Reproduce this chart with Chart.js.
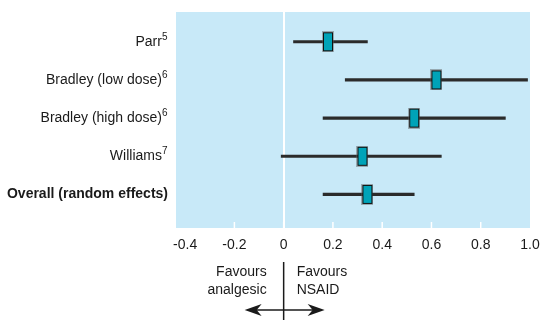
<!DOCTYPE html>
<html>
<head>
<meta charset="utf-8">
<script src="https://cdn.jsdelivr.net/npm/chart.js@4.4.0/dist/chart.umd.min.js"></script>
<style>
  html, body { margin: 0; padding: 0; background: #fff; }
  #wrap { width: 541px; height: 320px; }
</style>
</head>
<body>
<div id="wrap"><canvas id="myChart" width="541" height="320"></canvas></div>
<script>
// dati
const studies = ['Parr', 'Bradley (low dose)', 'Bradley (high dose)', 'Williams', 'Overall (random effects)']
const refs = ['5', '6', '6', '7', '']
const estimates = [0.18, 0.62, 0.53, 0.32, 0.34]
const lower = [0.04, 0.25, 0.16, -0.01, 0.16]
const upper = [0.34, 0.99, 0.90, 0.64, 0.53]
const xTicks = [-0.4, -0.2, 0, 0.2, 0.4, 0.6, 0.8, 1.0]
const markTicks = [-0.2, 0, 0.2, 0.4, 0.6, 0.8]

const FONT = '"Liberation Sans Narrow", "Liberation Sans", Arial, sans-serif'

// quadratino per la stima
const box = document.createElement('canvas')
box.width = 12
box.height = 21
const bctx = box.getContext('2d')
bctx.fillStyle = 'rgba(90,90,90,0.45)'
bctx.fillRect(0, 0, 12, 21)
bctx.fillStyle = '#111'
bctx.fillRect(1, 1, 10, 19)
bctx.fillStyle = '#00a3b8'
bctx.fillRect(2, 2, 8, 17)

const sfondo = {
  id: 'sfondo',
  beforeDraw(chart) {
    const a = chart.chartArea
    const ctx = chart.ctx
    ctx.save()
    ctx.fillStyle = '#c8e9f8'
    ctx.fillRect(a.left, a.top, a.right - a.left, a.bottom - a.top)
    ctx.restore()
  },
  beforeDatasetsDraw(chart) {
    const a = chart.chartArea
    const ctx = chart.ctx
    const x = chart.scales.x
    ctx.save()
    ctx.strokeStyle = '#fff'
    ctx.lineWidth = 1.5
    markTicks.forEach(v => {
      const px = x.getPixelForValue(v)
      ctx.beginPath()
      ctx.moveTo(px, a.bottom - 6)
      ctx.lineTo(px, a.bottom)
      ctx.stroke()
    })
    ctx.restore()
  }
}

//etichette a sinistra con apice e didascalia sotto
const etichette = {
  id: 'etichette',
  afterDraw(chart) {
    const ctx = chart.ctx
    const y = chart.scales.y
    const x = chart.scales.x
    const right = 168
    ctx.save()
    ctx.fillStyle = '#1a1a1a'
    ctx.textBaseline = 'middle'
    for (let i = 0; i < studies.length; i++) {
      const py = y.getPixelForValue(i)
      let supW = 0
      if (refs[i] != '') {
        ctx.font = '10px ' + FONT
        supW = ctx.measureText(refs[i]).width + 0.5
        ctx.textAlign = 'left'
        ctx.fillText(refs[i], right - supW, py - 5)
      }
      ctx.font = (i == 4 ? 'bold ' : '') + '14px ' + FONT
      ctx.textAlign = 'right'
      ctx.fillText(studies[i], right - supW, py)
    }

    const x0 = x.getPixelForValue(0)
    ctx.strokeStyle = '#1a1a1a'
    ctx.lineWidth = 1.5
    ctx.beginPath()
    ctx.moveTo(x0, 262)
    ctx.lineTo(x0, 320)
    ctx.stroke()
    ctx.font = '14px ' + FONT
    ctx.textAlign = 'right'
    ctx.fillText('Favours', x0 - 17, 272)
    ctx.fillText('analgesic', x0 - 17, 290)
    ctx.textAlign = 'left'
    ctx.fillText('Favours', x0 + 13, 272)
    ctx.fillText('NSAID', x0 + 13, 290)
    // freccia
    const ay = 310
    ctx.beginPath()
    ctx.moveTo(x0 - 34, ay)
    ctx.lineTo(x0 + 36, ay)
    ctx.stroke()
    ctx.fillStyle = '#1a1a1a'
    ctx.beginPath()
    ctx.moveTo(x0 - 39, ay)
    ctx.lineTo(x0 - 22, ay - 6)
    ctx.lineTo(x0 - 27, ay)
    ctx.lineTo(x0 - 22, ay + 6)
    ctx.closePath()
    ctx.fill()
    ctx.beginPath()
    ctx.moveTo(x0 + 41, ay)
    ctx.lineTo(x0 + 24, ay - 6)
    ctx.lineTo(x0 + 29, ay)
    ctx.lineTo(x0 + 24, ay + 6)
    ctx.closePath()
    ctx.fill()
    ctx.restore()
  }
}

const intervalli = studies.map((s, i) => ({ x: [lower[i], upper[i]], y: i }))
const punti = studies.map((s, i) => ({ x: estimates[i], y: i }))

const ctx = document.getElementById('myChart').getContext('2d')
const myChart = new Chart(ctx, {
  type: 'scatter',
  data: {
    datasets: [{
      type: 'bar',
      indexAxis: 'y',
      data: intervalli,
      backgroundColor: '#2b2b2b',
      borderWidth: 0,
      barThickness: 2.5,
      order: 2
    }, {
      data: punti,
      pointStyle: box,
      pointRadius: 6,
      pointHoverRadius: 6,
      order: 1
    }]
  },
  options: {
    responsive: false,
    animation: false,
    events: [],
    layout: { padding: { left: 176, right: 11, top: 12, bottom: 0 } },
    plugins: { legend: { display: false }, tooltip: { enabled: false } },
    scales: {
      x: {
        type: 'linear',
        min: -0.437,
        max: 1.0,
        offset: false,
        afterBuildTicks: s => { s.ticks = xTicks.map(v => ({ value: v })) },
        afterFit: s => {
          s.height = 92
          s.paddingLeft = 0
          s.paddingRight = 0
        },
        border: { display: false },
        grid: {
          offset: false,
          drawTicks: false,
          lineWidth: 2,
          color: c => (c.tick && c.tick.value == 0) ? '#ffffff' : 'rgba(0,0,0,0)'
        },
        ticks: {
          padding: 9,
          color: '#1a1a1a',
          font: { family: FONT, size: 14 },
          callback: v => v == 0 ? '0' : v.toFixed(1)
        }
      },
      y: {
        type: 'linear',
        display: false,
        reverse: true,
        offset: false,
        grid: { offset: false },
        min: -0.78,
        max: 4.88
      }
    }
  },
  plugins: [sfondo, etichette]
})
</script>
</body>
</html>
